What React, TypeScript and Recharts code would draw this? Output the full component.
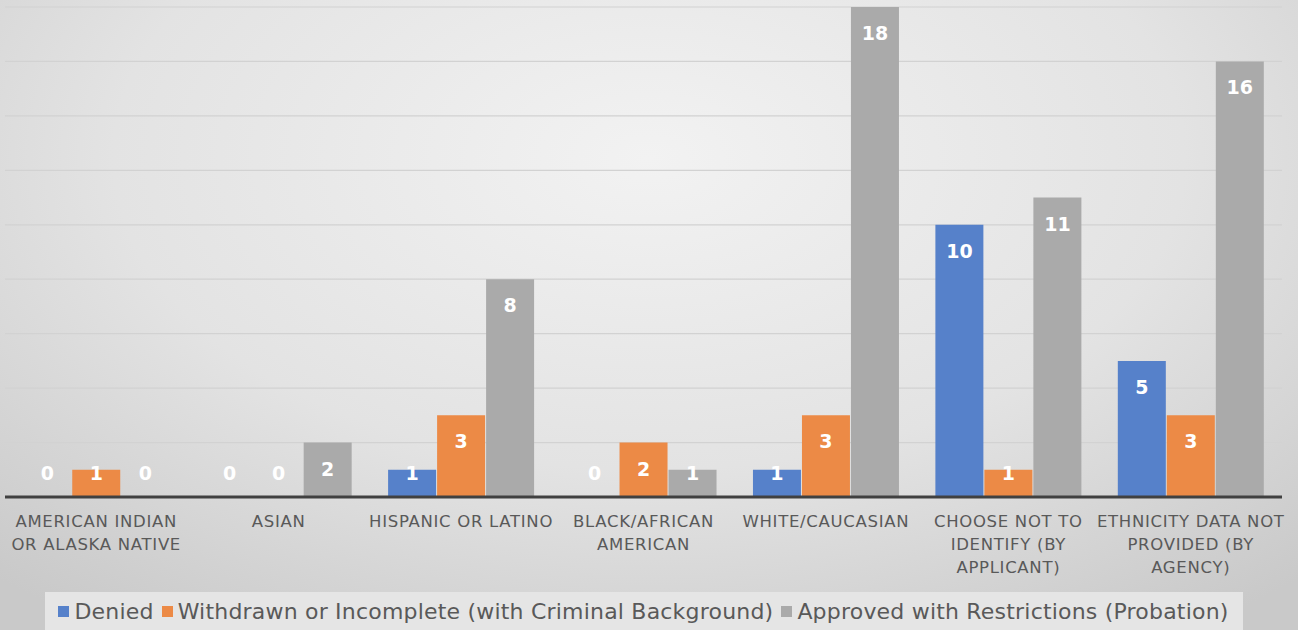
import { Bar, BarChart, CartesianGrid, LabelList, Legend, XAxis, YAxis } from "recharts";

const categories = [
  "AMERICAN INDIAN\nOR ALASKA NATIVE",
  "ASIAN",
  "HISPANIC OR LATINO",
  "BLACK/AFRICAN\nAMERICAN",
  "WHITE/CAUCASIAN",
  "CHOOSE NOT TO\nIDENTIFY (BY\nAPPLICANT)",
  "ETHNICITY DATA NOT\nPROVIDED (BY\nAGENCY)",
];

const denied = [0, 0, 1, 0, 1, 10, 5];
const withdrawn = [1, 0, 3, 2, 3, 1, 3];
const approved = [0, 2, 8, 1, 18, 11, 16];

const seriesNames = [
  "Denied",
  "Withdrawn or Incomplete (with Criminal Background)",
  "Approved with Restrictions (Probation)",
];
const colors = ["#5681ca", "#ec8a46", "#aaaaaa"];
const yTicks = [0, 2, 4, 6, 8, 10, 12, 14, 16, 18];

const data = categories.map((name, i) => ({
  name,
  denied: denied[i],
  withdrawn: withdrawn[i],
  approved: approved[i],
}));

const FONT = "'DejaVu Sans', sans-serif";

const CategoryTick = (props: any) => {
  const { x, y, payload } = props;
  const lines = String(payload.value).split("\n");
  return (
    <text
      x={x}
      y={y}
      textAnchor="middle"
      fill="#595959"
      fontSize={16.5}
      letterSpacing={0.7}
      fontFamily={FONT}
    >
      {lines.map((line, i) => (
        <tspan key={i} x={x} dy={i === 0 ? 30 : 23}>
          {line}
        </tspan>
      ))}
    </text>
  );
};

// value sits inside the top of the bar, but never lower than the short-bar spot
const ValueLabel = (props: any) => {
  const { x, y, width, height, value } = props;
  if (value == null) return null;
  const base = y + height;
  return (
    <g>
      <text
        x={x + width / 2}
        y={Math.min(y + 26, base - 24)}
        dy={7}
        textAnchor="middle"
        fill="#ffffff"
        fontSize={19}
        fontWeight="bold"
        fontFamily={FONT}
      >
        {value}
      </text>
    </g>
  );
};

const LegendBox = () => (
  <div
    style={{
      width: 1198,
      height: 38,
      margin: "0 auto",
      background: "#e5e5e5",
      display: "flex",
      alignItems: "center",
      justifyContent: "center",
      fontFamily: FONT,
      fontSize: 22,
      letterSpacing: 0.2,
      color: "#595959",
    }}
  >
    {seriesNames.map((s, i) => (
      <span key={s} style={{ display: "flex", alignItems: "center", marginRight: i < 2 ? 8 : 0 }}>
        <span
          style={{ width: 11, height: 11, background: colors[i], marginRight: 5, display: "inline-block" }}
        />
        {s}
      </span>
    ))}
  </div>
);

export default function App() {
  return (
    <div
      style={{
        position: "absolute",
        left: 0,
        top: 0,
        width: 1298,
        height: 630,
        background:
          "radial-gradient(ellipse 75% 90% at 50% 25%, #f2f2f2 0%, #e3e3e3 55%, #c9c9c9 100%)",
      }}
    >
      <BarChart
        width={1298}
        height={630}
        data={data}
        margin={{ top: 7, right: 16, left: 5, bottom: 0 }}
        barCategoryGap="10%"
        barGap={1}
      >
        <CartesianGrid vertical={false} stroke="#d2d2d2" strokeWidth={1.2} />
        <YAxis hide domain={[0, 18]} ticks={yTicks} />
        {/* minPointSize keeps zero bars (hidden under the axis line) so their "0" labels still draw */}
        <Bar dataKey="denied" name={seriesNames[0]} fill={colors[0]} minPointSize={1} isAnimationActive={false}>
          <LabelList dataKey="denied" content={<ValueLabel />} />
        </Bar>
        <Bar dataKey="withdrawn" name={seriesNames[1]} fill={colors[1]} minPointSize={1} isAnimationActive={false}>
          <LabelList dataKey="withdrawn" content={<ValueLabel />} />
        </Bar>
        <Bar dataKey="approved" name={seriesNames[2]} fill={colors[2]} minPointSize={1} isAnimationActive={false}>
          <LabelList dataKey="approved" content={<ValueLabel />} />
        </Bar>
        <XAxis
          dataKey="name"
          height={95}
          interval={0}
          tickLine={false}
          tickSize={0}
          tickMargin={0}
          axisLine={{ stroke: "#404040", strokeWidth: 3 }}
          tick={<CategoryTick />}
        />
        <Legend verticalAlign="bottom" content={<LegendBox />} />
      </BarChart>
    </div>
  );
}
